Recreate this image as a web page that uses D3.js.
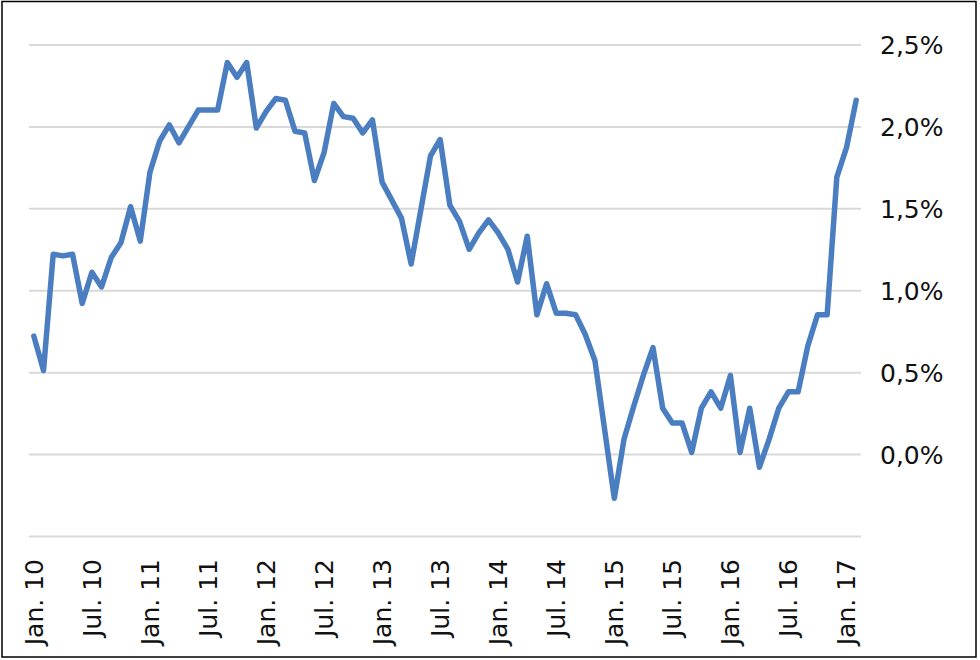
<!DOCTYPE html>
<html>
<head>
<meta charset="utf-8">
<script src="https://cdn.jsdelivr.net/npm/d3@7/dist/d3.min.js"></script>
<style>
  html, body { margin: 0; padding: 0; background: #fff; }
  svg { display: block; }
</style>
</head>
<body>
<svg id="chart" width="980" height="660"></svg>
<script>
// Monthly values, Jan 2010 .. Feb 2017 (percent)
const values = [
  0.72, 0.51, 1.22, 1.21, 1.22, 0.92, 1.11, 1.02, 1.20, 1.29, 1.51, 1.30,
  1.72, 1.91, 2.01, 1.90, 2.00, 2.10, 2.10, 2.10, 2.39, 2.30, 2.39, 1.99,
  2.09, 2.17, 2.16, 1.97, 1.96, 1.67, 1.84, 2.14, 2.06, 2.05, 1.96, 2.04,
  1.66, 1.55, 1.44, 1.16, 1.49, 1.82, 1.92, 1.52, 1.42, 1.25, 1.35, 1.43,
  1.35, 1.25, 1.05, 1.33, 0.85, 1.04, 0.86, 0.86, 0.85, 0.73, 0.57, 0.15,
  -0.27, 0.09, 0.29, 0.48, 0.65, 0.28, 0.19, 0.19, 0.01, 0.28, 0.38, 0.28,
  0.48, 0.01, 0.28, -0.08, 0.09, 0.28, 0.38, 0.38, 0.66, 0.85, 0.85, 1.69,
  1.87, 2.16
];
// x-axis tick labels (one every 6 months, starting at the first month)
const tickLabels = ["Jan. 10", "Jul. 10", "Jan. 11", "Jul. 11", "Jan. 12", "Jul. 12",
  "Jan. 13", "Jul. 13", "Jan. 14", "Jul. 14", "Jan. 15", "Jul. 15", "Jan. 16", "Jul. 16", "Jan. 17"];
const tickStep = 6;
// y-axis ticks (percent)
const yTicks = [-0.5, 0, 0.5, 1.0, 1.5, 2.0, 2.5];
const yTickLabels = ["", "0,0%", "0,5%", "1,0%", "1,5%", "2,0%", "2,5%"];

const svg = d3.select("#chart");
const font = "'DejaVu Sans', sans-serif";

// frame
svg.append("rect")
  .attr("x", 2).attr("y", 1.5).attr("width", 974).attr("height", 655.5)
  .attr("fill", "#fff").attr("stroke", "#000").attr("stroke-width", 1.5);

const plotLeft = 29, plotRight = 861;
const x = d3.scaleBand().domain(d3.range(values.length)).range([plotLeft, plotRight]);
const y = d3.scaleLinear().domain([-0.5, 2.5]).range([536, 44.5]);
const cx = i => x(i) + x.bandwidth() / 2;

// gridlines + y labels via axis
const yAxis = d3.axisRight(y).tickValues(yTicks)
  .tickSize(plotRight - plotLeft)
  .tickFormat((d, i) => yTickLabels[i]);
const gy = svg.append("g").attr("transform", `translate(${plotLeft},0)`).call(yAxis);
gy.select(".domain").remove();
gy.selectAll(".tick line").attr("stroke", "#d9d9d9").attr("stroke-width", 2);
gy.selectAll(".tick text")
  .attr("x", 880 - plotLeft)
  .attr("dy", "0.36em")
  .attr("fill", "#111")
  .style("font-family", font)
  .style("font-size", "25px");

// x labels via axis
const xAxis = d3.axisBottom(x)
  .tickValues(d3.range(0, values.length, tickStep).slice(0, tickLabels.length))
  .tickSize(0)
  .tickFormat((d, i) => tickLabels[i]);
const gx = svg.append("g").attr("transform", "translate(0,559)").call(xAxis);
gx.select(".domain").remove();
gx.selectAll(".tick text")
  .attr("transform", "rotate(-90)")
  .attr("text-anchor", "end")
  .attr("x", 0).attr("y", 0)
  .attr("dy", "0.36em")
  .attr("fill", "#111")
  .style("font-family", font)
  .style("font-size", "25px");

// line
const line = d3.line().x((d, i) => cx(i)).y(d => y(d));
svg.append("path")
  .datum(values)
  .attr("d", line)
  .attr("fill", "none")
  .attr("stroke", "#4a7ec0")
  .attr("stroke-width", 5.5)
  .attr("stroke-linejoin", "round")
  .attr("stroke-linecap", "round");
</script>
</body>
</html>
